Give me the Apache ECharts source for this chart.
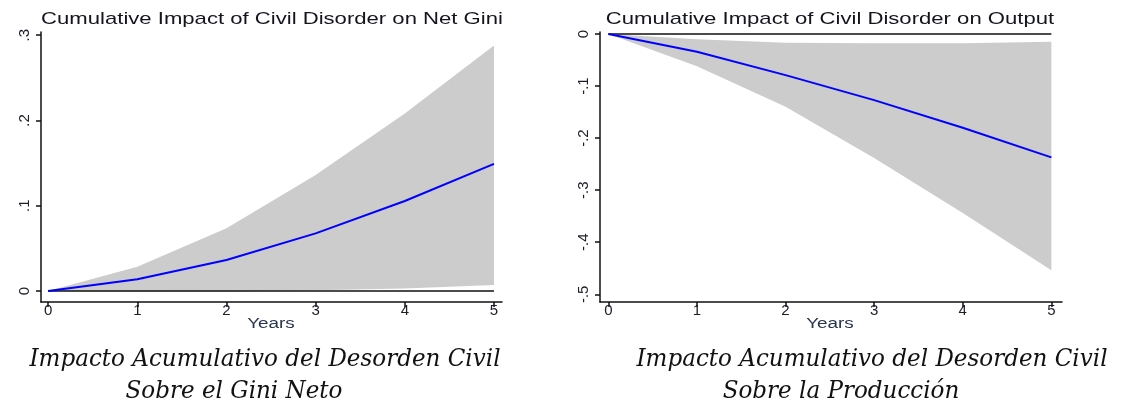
<!DOCTYPE html>
<html><head><meta charset="utf-8">
<script src="https://cdn.jsdelivr.net/npm/echarts@6/dist/echarts.min.js"></script>
<style>html,body{margin:0;padding:0;background:#fff}#c{width:1122px;height:408px}</style>
</head><body><div id="c"></div>
<script>
// ---- data ----
const years = [0, 1, 2, 3, 4, 5];
const giniMean  = [0, 0.0137, 0.0363, 0.0676, 0.1055, 0.149];
const giniUpper = [0, 0.0285, 0.0735, 0.136, 0.208, 0.288];
const giniLower = [0, -0.001, -0.0005, 0.001, 0.003, 0.007];
const outMean  = [0, -0.034, -0.079, -0.127, -0.180, -0.237];
const outUpper = [0, -0.010, -0.017, -0.018, -0.018, -0.015];
const outLower = [0, -0.062, -0.140, -0.238, -0.344, -0.454];
const giniTicks = [0, 0.1, 0.2, 0.3];
const giniTickLabels = {'0': '0', '0.1': '.1', '0.2': '.2', '0.3': '.3'};
const outTicks = [0, -0.1, -0.2, -0.3, -0.4, -0.5];
const outTickLabels = {'0': '0', '-0.1': '-.1', '-0.2': '-.2', '-0.3': '-.3', '-0.4': '-.4', '-0.5': '-.5'};
const titles = ['Cumulative Impact of Civil Disorder on Net Gini', 'Cumulative Impact of Civil Disorder on Output'];
const xName = 'Years';
const captions = [
  ['Impacto Acumulativo del Desorden Civil', 'Sobre el Gini Neto'],
  ['Impacto Acumulativo del Desorden Civil', 'Sobre la Producción']
];

const chart = echarts.init(document.getElementById('c'), null, {renderer: 'canvas'});
const axisCol = '#111';
const sans = 'Liberation Sans, Arial, sans-serif';
const labelFont = {fontFamily: sans, fontSize: 15, color: '#1c1c2a'};

function xAxisDef(gi, min, max) {
  return {
    type: 'value', gridIndex: gi, min: min, max: max,
    axisLine: {show: true, onZero: false, lineStyle: {color: axisCol, width: 1.5}},
    axisTick: {show: true, length: 5, customValues: years, lineStyle: {color: axisCol, width: 1.5}},
    axisLabel: Object.assign({customValues: years, margin: 1, formatter: v => String(v)}, labelFont),
    splitLine: {show: false}
  };
}
function yAxisDef(gi, min, max, ticks, lbls) {
  return {
    type: 'value', gridIndex: gi, min: min, max: max,
    axisLine: {show: true, onZero: false, lineStyle: {color: axisCol, width: 1.5}},
    axisTick: {show: true, length: 5, customValues: ticks, lineStyle: {color: axisCol, width: 1.5}},
    axisLabel: Object.assign({customValues: ticks, rotate: 90, margin: 9,
      formatter: v => lbls[String(Math.round(v * 10) / 10)] ?? ''}, labelFont),
    splitLine: {show: false}
  };
}
function band(gi, lower, upper) {
  const rows = years.map((x, i) => [x, lower[i], upper[i]]);
  return {
    type: 'custom', xAxisIndex: gi, yAxisIndex: gi, silent: true, z: 1,
    data: rows,
    renderItem: function (params, api) {
      if (params.dataIndex !== 0) return null;
      const pts = [];
      rows.forEach(r => pts.push(api.coord([r[0], r[2]])));
      for (let i = rows.length - 1; i >= 0; i--) pts.push(api.coord([rows[i][0], rows[i][1]]));
      return {type: 'polygon', shape: {points: pts}, style: {fill: '#cccccc', stroke: null}};
    }
  };
}
function meanLine(gi, vals) {
  return {type: 'line', xAxisIndex: gi, yAxisIndex: gi, z: 3, symbol: 'none', silent: true,
    data: years.map((x, i) => [x, vals[i]]), lineStyle: {color: '#0000ff', width: 2}};
}
function zeroLine(gi) {
  return {type: 'line', xAxisIndex: gi, yAxisIndex: gi, z: 2, symbol: 'none', silent: true,
    data: [[years[0], 0], [years[years.length - 1], 0]], lineStyle: {color: '#111', width: 1.5}};
}

const capFont = {fontFamily: 'DejaVu Serif', fontStyle: 'italic', fontSize: 24, fill: '#111'};
function txt(x, y, t, font, sx) {
  return {type: 'text', x: x, y: y, scaleX: sx, silent: true,
    style: Object.assign({text: t, align: 'center', verticalAlign: 'middle'}, font)};
}
const titleFont = {fontFamily: sans, fontSize: 17, fill: '#14141e'};
const nameFont = {fontFamily: sans, fontSize: 14, fill: '#2a3550'};

chart.setOption({
  animation: false,
  backgroundColor: '#fff',
  grid: [
    {left: 41, top: 32, width: 461, height: 270},
    {left: 600, top: 32, width: 462, height: 270}
  ],
  xAxis: [xAxisDef(0, -0.08, 5.09), xAxisDef(1, -0.094, 5.12)],
  yAxis: [yAxisDef(0, -0.0129, 0.3037, giniTicks, giniTickLabels),
          yAxisDef(1, -0.5148, 0.0038, outTicks, outTickLabels)],
  series: [
    band(0, giniLower, giniUpper), zeroLine(0), meanLine(0, giniMean),
    band(1, outLower, outUpper), zeroLine(1), meanLine(1, outMean)
  ],
  graphic: [
    txt(272, 19, titles[0], titleFont, 1.3),
    txt(830, 19, titles[1], titleFont, 1.3),
    txt(271, 324, xName, nameFont, 1.35),
    txt(830, 324, xName, nameFont, 1.35),
    txt(265, 360, captions[0][0], capFont, 0.96),
    txt(234, 392, captions[0][1], capFont, 0.96),
    txt(872, 360, captions[1][0], capFont, 0.96),
    txt(841, 392, captions[1][1], capFont, 0.96)
  ]
});
</script></body></html>
